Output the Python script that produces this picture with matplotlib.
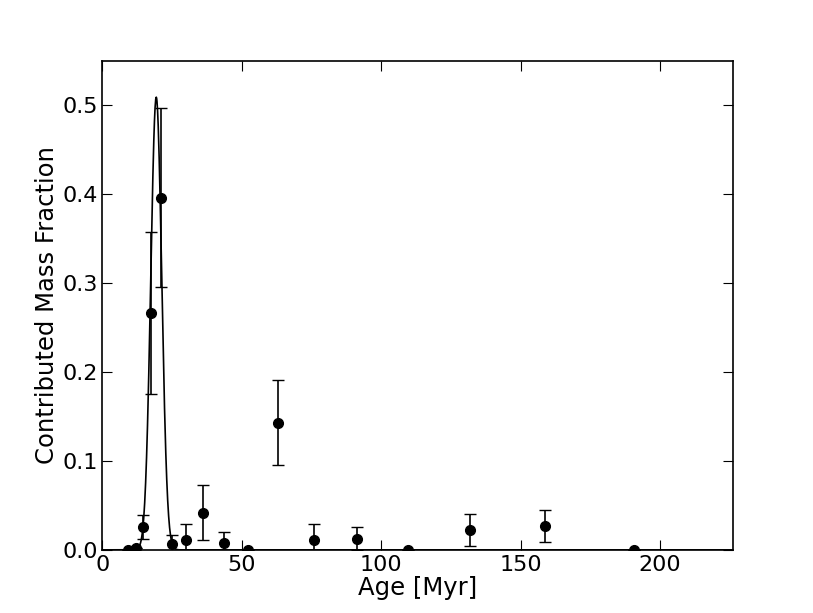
import numpy as np
import matplotlib
matplotlib.use("Agg")
import matplotlib.pyplot as plt

# cluster ages [Myr] and contributed mass fraction
ages = [9.3, 11.9, 14.4, 17.3, 21.0, 25.1, 30.1, 36.2, 43.7, 52.3,
        63.0, 76.0, 91.2, 109.7, 131.9, 158.6, 190.6]
mass_frac = [0.0, 0.002, 0.0255, 0.266, 0.396, 0.0067, 0.011, 0.042, 0.0075, 0.0,
             0.143, 0.0112, 0.0124, 0.0, 0.0225, 0.0265, 0.0]
mass_err = [0.0, 0.0, 0.0135, 0.091, 0.1005, 0.0102, 0.018, 0.031, 0.013, 0.0,
            0.048, 0.018, 0.0131, 0.0, 0.0176, 0.018, 0.0]

# gaussian fit overlaid on the points
fit_peak = 0.509
fit_center = 19.3
fit_sigma = 1.95

x_ticks = [0, 50, 100, 150, 200]
y_ticks = [0.0, 0.1, 0.2, 0.3, 0.4, 0.5]

plt.rcParams["font.family"] = "DejaVu Sans"
plt.rcParams["font.size"] = 16

fig = plt.figure(figsize=(8.13, 6.13), dpi=100)
ax = fig.add_axes([0.126, 0.103, 0.775, 0.798])

xs = np.linspace(0, 226, 2000)
ax.plot(xs, fit_peak * np.exp(-(xs - fit_center) ** 2 / (2 * fit_sigma ** 2)),
        color="black", lw=1.2)
ax.errorbar(ages, mass_frac, yerr=mass_err, fmt="o", color="black",
            ms=7, elinewidth=1.2, capsize=4, capthick=1.0)

ax.set_xlim(0, 226)
ax.set_ylim(0, 0.55)
ax.set_xticks(x_ticks)
ax.set_yticks(y_ticks)
ax.tick_params(direction="in", length=7, width=0.8, top=True, right=True,
               labelsize=16)
ax.tick_params(axis="x", pad=3.5)
ax.tick_params(axis="y", pad=3)
for s in ax.spines.values():
    s.set_linewidth(1.2)

ax.set_xlabel("Age [Myr]", fontsize=17.5, labelpad=1)
ax.set_ylabel("Contributed Mass Fraction", fontsize=17.5, labelpad=3)

fig.savefig("out.png", dpi=100)
